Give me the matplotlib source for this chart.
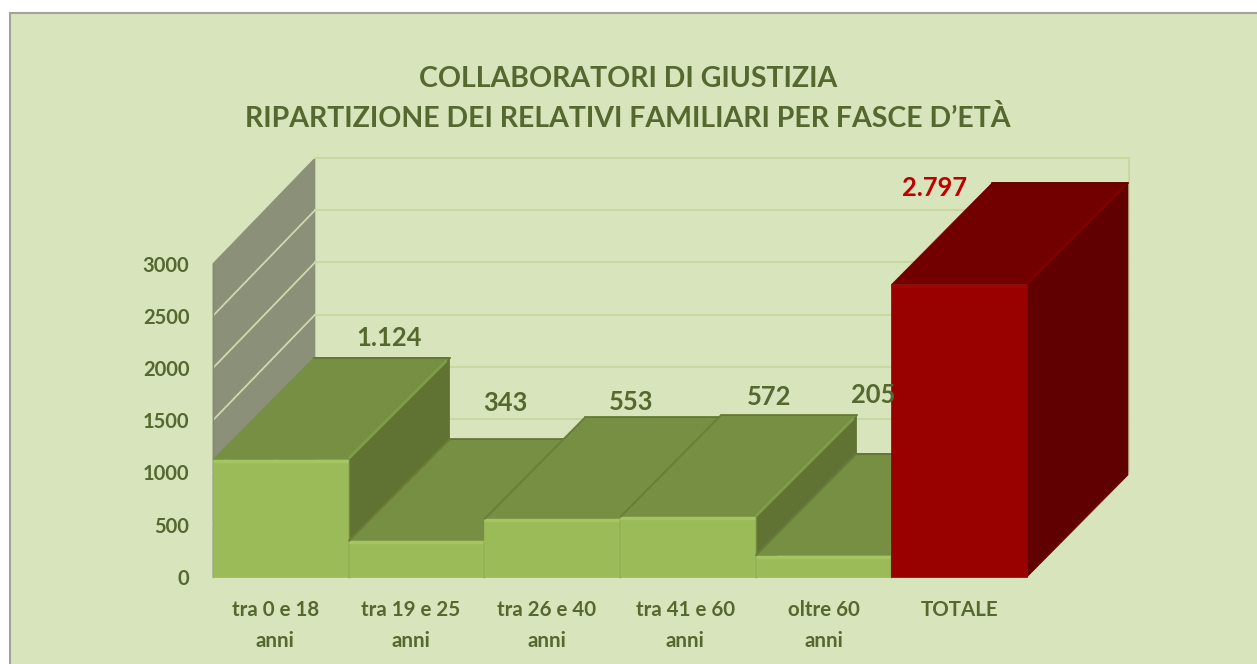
import matplotlib
matplotlib.use('Agg')
import matplotlib.pyplot as plt
from matplotlib.patches import Polygon, Rectangle

plt.rcParams['font.family'] = ['Lato', 'DejaVu Sans']

categorie = ['tra 0 e 18\nanni', 'tra 19 e 25\nanni', 'tra 26 e 40\nanni',
             'tra 41 e 60\nanni', 'oltre 60\nanni', 'TOTALE']
valori = [1124, 343, 553, 572, 205, 2797]
etichette = ['1.124', '343', '553', '572', '205', '2.797']
y_ticks = [0, 500, 1000, 1500, 2000, 2500, 3000]
titolo = 'COLLABORATORI DI GIUSTIZIA\nRIPARTIZIONE DEI RELATIVI FAMILIARI PER FASCE D\u2019ET\u00c0'

W, H = 1257, 664
VERDE = '#55682f'


def fx(x):
    return x / W


def fy(y):
    return 1 - y / H


fig = plt.figure(figsize=(W / 100, H / 100), dpi=100, facecolor='white')
fig.add_artist(Rectangle((fx(9.5), -0.01), 1.01, fy(12.5) + 0.01, transform=fig.transFigure,
                         facecolor='#d8e4bc', edgecolor='#a3a39c', linewidth=1.5, zorder=-1))

# front plane of the 3d box
ax = fig.add_axes([fx(213), fy(577), 814 / W, 313.5 / H])
ax.set_xlim(0, 6)
ax.set_ylim(0, 3000)
ax.patch.set_alpha(0)
for s in ax.spines.values():
    s.set_visible(False)

wall_dx = 102 / 135.7
wall_dy = 1010
bar_dx = 101 / 135.7
bar_dy = 976


def poly(pts, color, z):
    ax.add_patch(Polygon(pts, closed=True, facecolor=color, edgecolor=color, linewidth=0.5,
                         clip_on=False, zorder=z))


# side wall and gridlines
poly([(0, 0), (wall_dx, wall_dy), (wall_dx, 3000 + wall_dy), (0, 3000)], '#8b9079', 1)
for t in y_ticks:
    ax.plot([wall_dx, 6 + wall_dx], [t + wall_dy, t + wall_dy], color='#c8d9a0', lw=1.5,
            clip_on=False, zorder=1.5)
    if t > 0 and t < 3000:
        ax.plot([0, wall_dx], [t, t + wall_dy], color='#cdd9ae', lw=1.3, clip_on=False, zorder=1.5)
ax.plot([6 + wall_dx, 6 + wall_dx], [wall_dy, 3000 + wall_dy], color='#c8d9a0', lw=1.5,
        clip_on=False, zorder=1.5)

# bars, left to right so the later ones cover the earlier ones
for i, v in enumerate(valori):
    if i == 5:
        front, top, side, bevel, bevel2 = '#990000', '#720000', '#600000', '#a00404', '#800000'
    else:
        front, top, side, bevel, bevel2 = '#9bbb59', '#768f42', '#607332', '#a5c562', '#7f9c48'
    z = 2 + i
    poly([(i + 1, 0), (i + 1 + bar_dx, bar_dy), (i + 1 + bar_dx, v + bar_dy), (i + 1, v)], side, z)
    poly([(i, v), (i + bar_dx, v + bar_dy), (i + 1 + bar_dx, v + bar_dy), (i + 1, v)], top, z)
    poly([(i, 0), (i, v), (i + 1, v), (i + 1, 0)], front, z)
    ax.plot([i, i + 1], [v - 12, v - 12], color=bevel, lw=2.5, clip_on=False, zorder=z,
            solid_capstyle='butt')
    ax.plot([i + 1, i + 1 + 0.97 * bar_dx], [v + 10, v + 0.97 * bar_dy], color=bevel2, lw=2,
            clip_on=False, zorder=z, solid_capstyle='butt')
    ax.plot([i + bar_dx, i + 1 + bar_dx], [v + bar_dy, v + bar_dy], color=side, lw=1.2,
            clip_on=False, zorder=z)
    # left edge of the top face, shows against the neighbouring bar
    if 0 < i < 5:
        ax.plot([i, i + bar_dx], [v, v + bar_dy], color='#687e39', lw=1.4, clip_on=False,
                zorder=z, solid_capstyle='butt')
    if i < 5:
        ax.plot([i + 1, i + 1], [0, v], color='#71883f', lw=1, clip_on=False, zorder=z + 1)
ax.plot([0, 0], [0, 3000], color='#85896f', lw=1, clip_on=False, zorder=1.8)

# axis text
ax.set_yticks(y_ticks)
ax.set_yticklabels([str(t) for t in y_ticks])
ax.set_xticks([0.46, 1.46, 2.46, 3.48, 4.5, 5.5])
ax.set_xticklabels(categorie, linespacing=1.72)
ax.tick_params(axis='y', length=0, pad=17, labelsize=14.5, labelcolor=VERDE)
ax.tick_params(axis='x', length=0, pad=16.5, labelsize=14.8, labelcolor=VERDE)
for lab in ax.get_xticklabels() + ax.get_yticklabels():
    lab.set_fontweight('bold')

# data labels placed by hand in the original
label_px = [(389, 338), (505, 403), (631, 402), (769, 397), (873, 395), (935, 188)]
for i, (px, py) in enumerate(label_px):
    fig.text(fx(px), fy(py), etichette[i], ha='center', va='center', fontsize=18.4,
             fontweight='bold', color='#c00000' if i == 5 else VERDE, zorder=20)

fig.text(fx(628), fy(99), titolo, ha='center', va='center', fontsize=20.5, fontweight='bold',
         color=VERDE, linespacing=1.55)

fig.savefig('out.png', dpi=100, facecolor='white')
